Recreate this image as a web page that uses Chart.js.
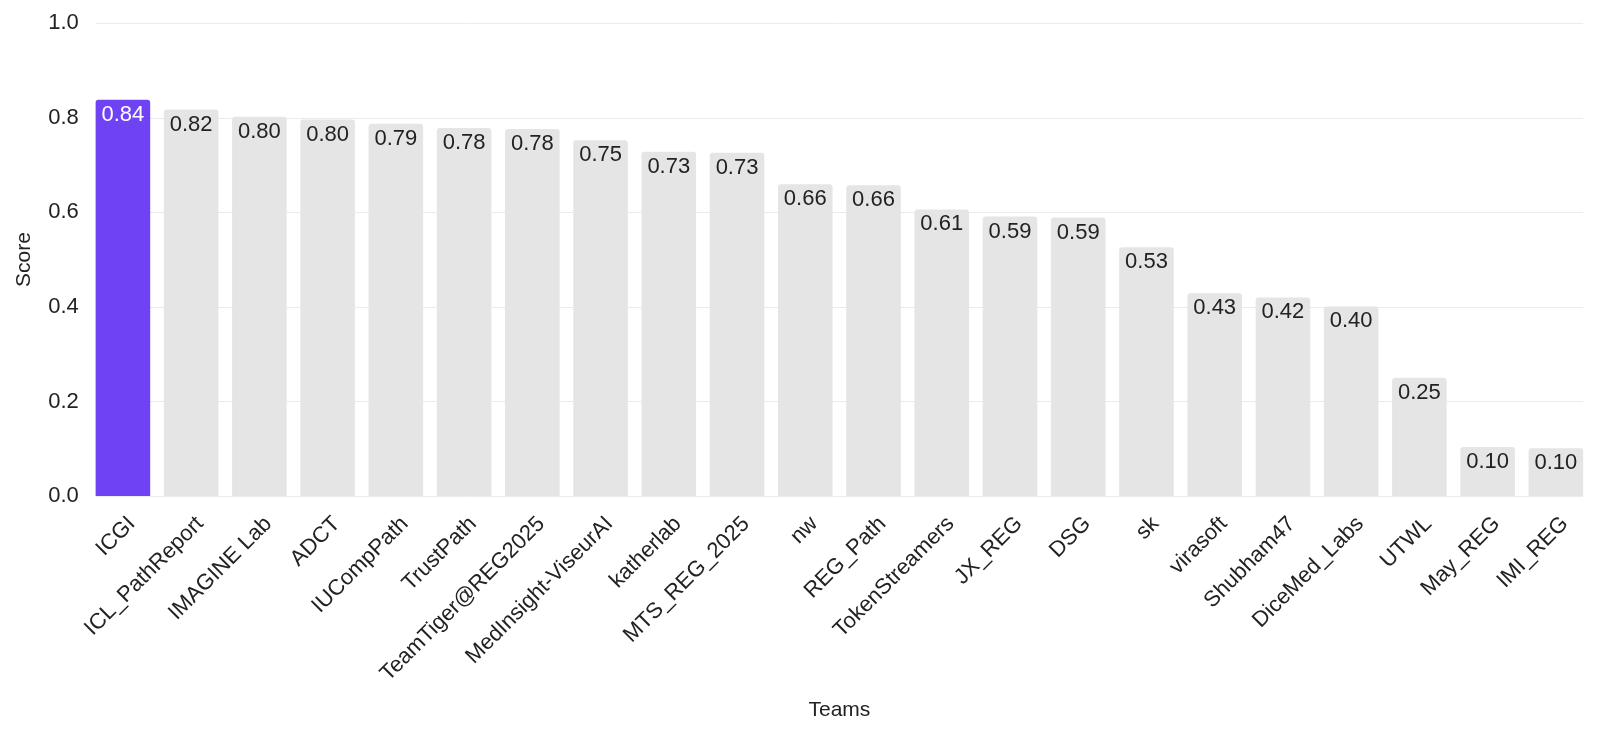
<!DOCTYPE html>
<html>
<head>
<meta charset="utf-8">
<script src="https://cdn.jsdelivr.net/npm/chart.js@4.4.1/dist/chart.umd.min.js"></script>
<style>
  html, body { margin: 0; padding: 0; background: #fff; }
  #wrap { width: 1600px; height: 733px; }
</style>
</head>
<body>
<div id="wrap"><canvas id="chart"></canvas></div>
<script>
// team names, ordered by score
const teams = [
    'ICGI', 'ICL_PathReport', 'IMAGINE Lab', 'ADCT', 'IUCompPath', 'TrustPath',
    'TeamTiger@REG2025', 'MedInsight-ViseurAI', 'katherlab', 'MTS_REG_2025', 'nw',
    'REG_Path', 'TokenStreamers', 'JX_REG', 'DSG', 'sk', 'virasoft', 'Shubham47',
    'DiceMed_Labs', 'UTWL', 'May_REG', 'IMI_REG'
];
const scores = [
    0.838, 0.817, 0.802, 0.796, 0.787, 0.778, 0.776, 0.752, 0.728, 0.726, 0.659,
    0.657, 0.606, 0.591, 0.589, 0.526, 0.429, 0.420, 0.401, 0.250, 0.104, 0.101
];
const yTicks = [0, 0.2, 0.4, 0.6, 0.8, 1.0];
const highlightTeam = 'ICGI';

const PURPLE = '#6f43f4';
const GREY = '#e5e5e5';
const FONT = 'Liberation Sans, Arial, sans-serif';

Chart.defaults.font.family = FONT;
Chart.defaults.color = '#222';

// grid lines only span the bars (first bar left edge to last bar right edge)
const gridPlugin = {
    id: 'barGrid',
    beforeDatasetsDraw(chart) {
        const { ctx } = chart;
        const y = chart.scales.y;
        const bars = chart.getDatasetMeta(0).data;
        const x0 = bars[0].x - bars[0].width / 2;
        const last = bars[bars.length - 1];
        const x1 = last.x + last.width / 2;
        ctx.save();
        ctx.strokeStyle = '#ebebeb';
        ctx.lineWidth = 1;
        yTicks.forEach(t => {
            const py = Math.round(y.getPixelForValue(t)) + 0.5;
            ctx.beginPath();
            ctx.moveTo(x0, py);
            ctx.lineTo(x1, py);
            ctx.stroke();
        });
        ctx.restore();
    }
};

// value labels inside the top of each bar
const valuePlugin = {
    id: 'barValues',
    afterDatasetsDraw(chart) {
        const { ctx } = chart;
        const bars = chart.getDatasetMeta(0).data;
        ctx.save();
        ctx.font = '22px ' + FONT;
        ctx.textAlign = 'center';
        ctx.textBaseline = 'middle';
        bars.forEach((bar, i) => {
            ctx.fillStyle = teams[i] === highlightTeam ? '#ffffff' : '#222222';
            ctx.fillText(scores[i].toFixed(2), bar.x, bar.y + 15);
        });
        ctx.restore();
    }
};

new Chart(document.getElementById('chart'), {
    type: 'bar',
    data: {
        labels: teams,
        datasets: [{
            data: scores,
            backgroundColor: teams.map(t => t === highlightTeam ? PURPLE : GREY),
            borderRadius: { topLeft: 3, topRight: 3, bottomLeft: 0, bottomRight: 0 },
            borderSkipped: 'bottom',
            categoryPercentage: 1.0,
            barPercentage: 0.8
        }]
    },
    options: {
        responsive: true,
        maintainAspectRatio: false,
        animation: false,
        layout: { padding: { top: 23, right: 10, left: 12, bottom: 10 } },
        plugins: {
            legend: { display: false },
            tooltip: { enabled: false }
        },
        scales: {
            x: {
                grid: { display: false },
                border: { display: false },
                ticks: {
                    font: { size: 22 },
                    color: '#222',
                    minRotation: 45,
                    maxRotation: 45,
                    autoSkip: false,
                    padding: 7,
                    labelOffset: 9
                },
                title: {
                    display: true,
                    text: 'Teams',
                    font: { size: 21 },
                    color: '#222',
                    padding: { top: 4, bottom: 0 }
                }
            },
            y: {
                min: 0,
                max: 1,
                afterBuildTicks(axis) {
                    axis.ticks = yTicks.map(v => ({ value: v }));
                },
                grid: { display: false },
                border: { display: false },
                ticks: {
                    font: { size: 22 },
                    color: '#222',
                    padding: 2,
                    callback: v => v.toFixed(1)
                },
                title: {
                    display: true,
                    text: 'Score',
                    font: { size: 21 },
                    color: '#222',
                    padding: { top: 0, bottom: 9 }
                }
            }
        }
    },
    plugins: [gridPlugin, valuePlugin]
});
</script>
</body>
</html>
